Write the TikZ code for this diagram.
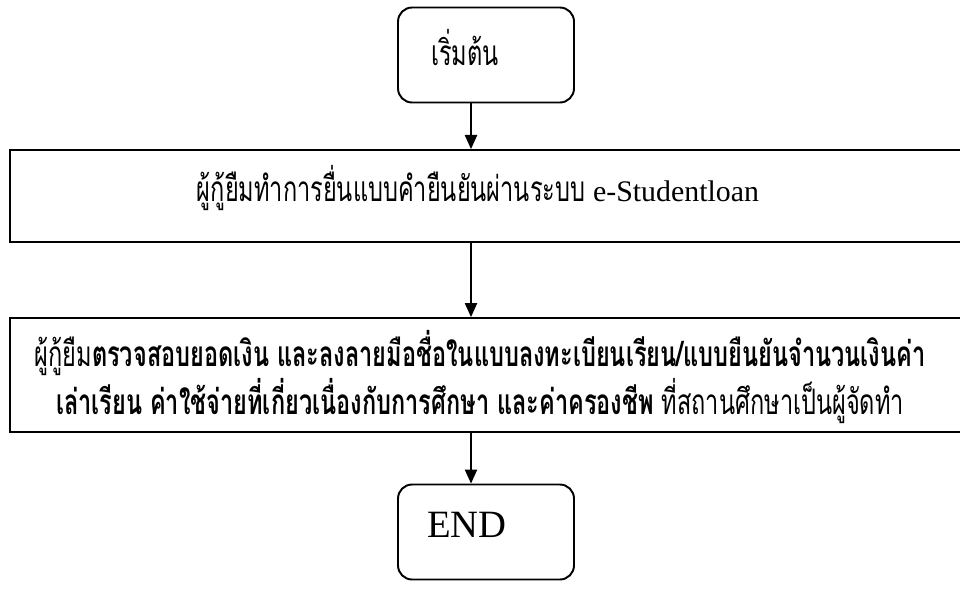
\documentclass[tikz,border=0pt]{standalone}
\usepackage{fontspec}
\setmainfont{Liberation Serif}
\newfontfamily\thai[Script=Thai,FakeStretch=0.67]{Loma}
\usetikzlibrary{arrows.meta,positioning}

\begin{document}
\begin{tikzpicture}[x=0.02cm,y=-0.02cm,>={Triangle[length=8pt,width=7pt]},
                    semithick]
  \tikzstyle{endbox}=[rectangle,rounded corners=8pt,draw=black,line width=1.1pt,
                      minimum width=3.52cm,minimum height=1.9cm]
  \tikzstyle{stepbox}=[rectangle,draw=black,line width=1.1pt,minimum width=19.4cm]
  \tikzstyle{thaitext}=[font=\thai\fontsize{20}{22.7}\selectfont,inner sep=0pt]
  \tikzstyle{flow}=[->,line width=0.8pt]

  \useasboundingbox (0,0) rectangle (960,600);
  \clip (0,0) rectangle (960,600);
  \coordinate (axis) at (471,0);

  \node[endbox] (start)                             at (486,55)  {};
  \node[thaitext] (starttxt)                        at (465,48)  {เริ่มต้น};
  \node[stepbox,minimum height=1.84cm] (submit)     at (495,196) {};
  \node[thaitext] (submittxt)                       at (478,188)
       {ผู้กู้ยืมทำการยื่นแบบคำยืนยันผ่านระบบ {\rmfamily\fontsize{17}{20}\selectfont e-Studentloan}};
  \node[stepbox,minimum height=2.28cm] (check)      at (495,375) {};
  \node[thaitext,align=center] (checktxt)           at (480,377)
       {ผู้กู้ยืม\textbf{ตรวจสอบยอดเงิน และลงลายมือชื่อในแบบลงทะเบียนเรียน/แบบยืนยันจำนวนเงินค่า}\\
        \textbf{เล่าเรียน ค่าใช้จ่ายที่เกี่ยวเนื่องกับการศึกษา และค่าครองชีพ} ที่สถานศึกษาเป็นผู้จัดทำ};
  \node[endbox] (finish)                            at (486,532) {};
  \node[font=\fontsize{22}{26}\selectfont,inner sep=0pt] (finishtxt) at (467,525) {END};

  \draw[flow] (start.south -| axis)  -- (submit.north -| axis);
  \draw[flow] (submit.south -| axis) -- (check.north -| axis);
  \draw[flow] (check.south -| axis)  -- (finish.north -| axis);
\end{tikzpicture}
\end{document}
